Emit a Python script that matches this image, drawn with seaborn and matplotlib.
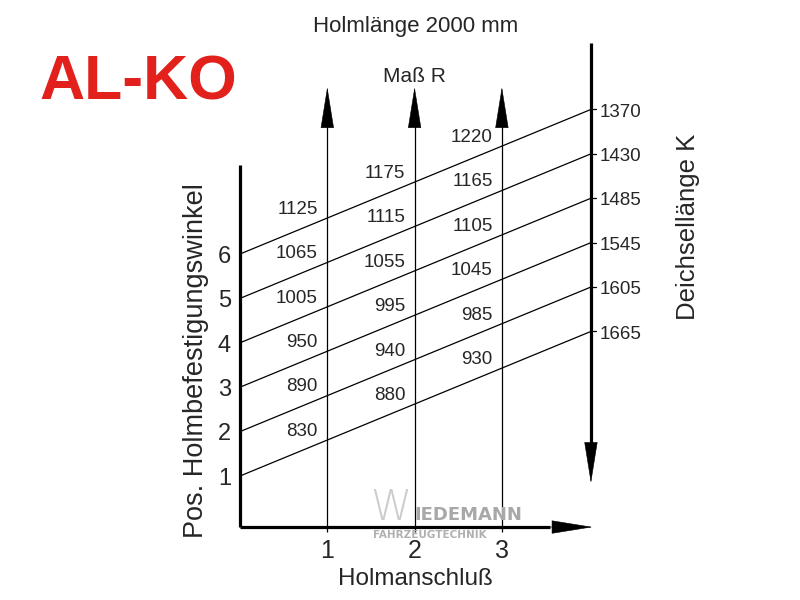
import numpy as np
import pandas as pd
import matplotlib.pyplot as plt
import seaborn as sns

# Pos. Holmbefestigungswinkel (left scale) and Holmanschluss (bottom scale)
pos = [1, 2, 3, 4, 5, 6]
holm = [1, 2, 3]
# Deichsellaenge K at the right end of each line
deichsel_k = [1665, 1605, 1545, 1485, 1430, 1370]
# Mass R at Holmanschluss 1, 2, 3 (for pos 1..6)
mass_r1 = [830, 890, 950, 1005, 1065, 1125]
mass_r2 = [880, 940, 995, 1055, 1115, 1175]
mass_r3 = [930, 985, 1045, 1105, 1165, 1220]

rise = 0.81     # line slope per Holmanschluss step
x_end = 4.02    # position of the K scale

sns.set_style("white")
plt.rcParams["font.family"] = ["Liberation Sans", "DejaVu Sans"]
narrow = ["Liberation Sans Narrow", "Liberation Sans", "DejaVu Sans"]

fig = plt.figure(figsize=(8, 6), dpi=100)
ax = fig.add_axes([0, 0, 1, 1])
ax.set_xlim(-240 / 87.3, 560 / 87.3)
ax.set_ylim((520.4 - 600) / 44.4, 520.4 / 44.4)
ax.axis("off")

lines = pd.DataFrame({"pos": np.repeat(pos, 2), "x": [0, x_end] * len(pos)})
lines["y"] = lines["pos"] + rise * lines["x"]
sns.lineplot(data=lines, x="x", y="y", units="pos", estimator=None,
             color="black", lw=0.9, ax=ax, legend=False)


def arrow(start, tip, lw, base):
    # thick shaft up to the head base, thin-outlined filled head
    ax.plot([start[0], base[0]], [start[1], base[1]], color="black", lw=lw,
            solid_capstyle="butt")
    ax.annotate("", xy=tip, xytext=base,
                arrowprops=dict(arrowstyle="-|>,head_length=2.8,head_width=0.45",
                                mutation_scale=10, lw=0.4, color="black",
                                shrinkA=0, shrinkB=0))


# axes of the nomogram
ax.plot([0, 0], [-0.15, 8.0], color="black", lw=2.3, solid_capstyle="butt")
arrow((0, -0.15), (4.04, -0.15), 2.3, (3.55, -0.15))
for h in holm:
    arrow((h, -0.25), (h, 9.76), 0.9, (h, 8.9))
arrow((x_end, 10.75), (x_end, 0.84), 2.3, (x_end, 1.7))

# small ticks on the K scale
for p in pos:
    ax.plot([x_end, x_end + 0.06], [p + rise * x_end] * 2, color="black", lw=0.9)

# Mass R labels
for h, vals in zip(holm, [mass_r1, mass_r2, mass_r3]):
    xl = h - 0.107
    for p, v in zip(pos, vals):
        ax.text(xl, p + rise * xl + 0.18, str(v), ha="right", va="baseline",
                fontsize=13.5, family=narrow)

# K labels
for p, k in zip(pos, deichsel_k):
    ax.text(4.124, p + rise * x_end - 0.16, str(k), ha="left", va="baseline",
            fontsize=13.5, family=narrow)

# tick labels
for p in pos:
    ax.text(-0.103, p - 0.2, str(p), ha="right", va="baseline",
            fontsize=17, family=narrow)
for h in holm:
    ax.text(h, -0.847, str(h), ha="center", va="baseline",
            fontsize=18, family=narrow)

# titles and axis names
fig.text(416 / 800, 1 - 32 / 600, "Holmlänge 2000 mm", ha="center", va="baseline", fontsize=16)
fig.text(414 / 800, 1 - 82 / 600, "Maß R", ha="center", va="baseline", fontsize=15)
fig.text(415 / 800, 1 - 585 / 600, "Holmanschluß", ha="center", va="baseline", fontsize=17.5)
fig.text(688 / 800, 1 - 227 / 600, "Deichsellänge K", ha="center", va="center",
         rotation=90, fontsize=18.5)
fig.text(196 / 800, 1 - 361 / 600, "Pos. Holmbefestigungswinkel", ha="center", va="center",
         rotation=90, fontsize=19.5)

# logo
fig.text(138 / 800, 1 - 100 / 600, "AL-KO", ha="center", va="baseline", fontsize=45,
         fontweight="bold", color="#e2211c")

# watermark
fig.text(411 / 800, 1 - 520 / 600, "W", ha="right", va="baseline", fontsize=30,
         color="#cccccc", family="DejaVu Sans", fontweight="light")
fig.text(414 / 800, 1 - 520 / 600, "IEDEMANN", ha="left", va="baseline", fontsize=13,
         color="#a8a8a8", family="DejaVu Sans", fontweight="bold")
fig.text(373 / 800, 1 - 538 / 600, "FAHRZEUGTECHNIK", ha="left", va="baseline", fontsize=7.5,
         color="#b0b0b0", family="DejaVu Sans", fontweight="bold")

fig.savefig("out.png", dpi=100)
